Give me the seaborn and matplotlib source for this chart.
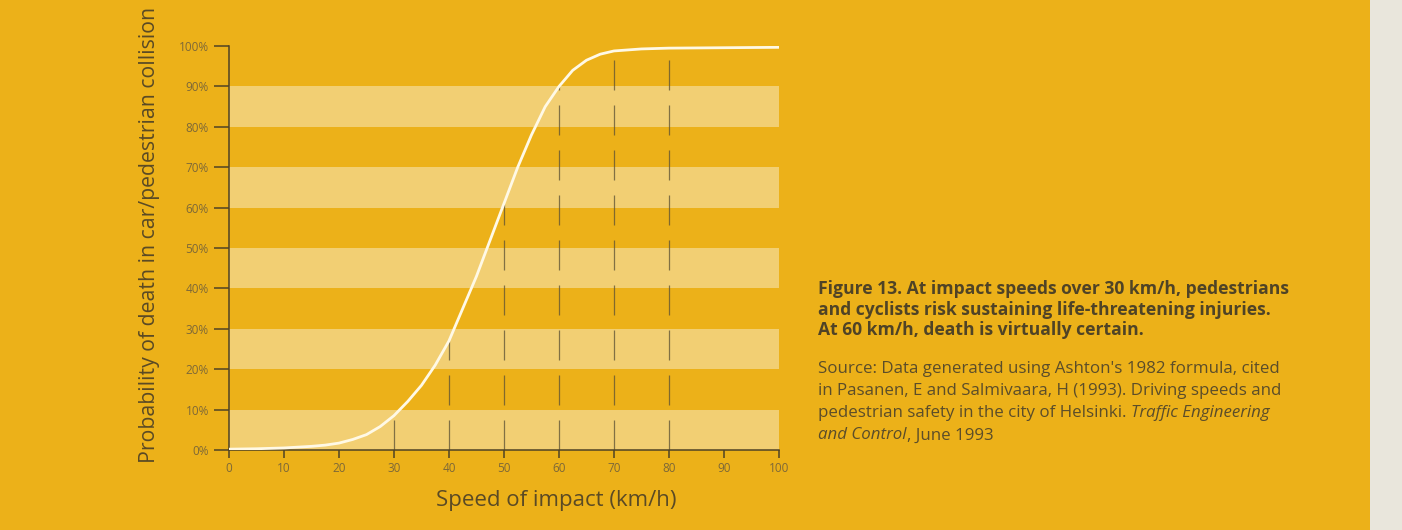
import numpy as np
import pandas as pd
import matplotlib
matplotlib.use("Agg")
import matplotlib.pyplot as plt
import seaborn as sns

# speed of impact (km/h) and probability of death (%)
speed = [0, 5, 7.5, 10, 12.5, 15, 17.5, 20, 22.5, 25, 27.5, 30, 32.5, 35, 37.5,
         40, 42.5, 45, 47.5, 50, 52.5, 55, 57.5, 60, 62.5, 65, 67.5, 70, 75,
         80, 90, 100]
death_pct = [0.2, 0.3, 0.4, 0.5, 0.7, 0.9, 1.2, 1.7, 2.6, 3.8, 5.8, 8.5, 12, 16,
             21, 27, 35, 43, 52, 61, 70, 78, 85, 90, 94, 96.5, 98, 98.8, 99.3,
             99.5, 99.6, 99.7]

# speeds that carry a broken drop line down to the axis
drop_speeds = [30, 40, 50, 60, 70, 80]

x_ticks = [0, 10, 20, 30, 40, 50, 60, 70, 80, 90, 100]
y_ticks = [0, 10, 20, 30, 40, 50, 60, 70, 80, 90, 100]
band_starts = [0, 20, 40, 60, 80]
band_width = 10

caption = ("Figure 13. At impact speeds over 30 km/h, pedestrians\n"
           "and cyclists risk sustaining life-threatening injuries.\n"
           "At 60 km/h, death is virtually certain.")
# each source line as (text, italic) pieces
source_lines = [
    [("Source: Data generated using Ashton's 1982 formula, cited", False)],
    [("in Pasanen, E and Salmivaara, H (1993). Driving speeds and", False)],
    [("pedestrian safety in the city of Helsinki. ", False),
     ("Traffic Engineering", True)],
    [("and Control", True), (", June 1993", False)],
]

BG = "#ECB119"
BAND = "#F2CF73"
INK = "#4f4326"
TICK_INK = "#7d6838"

sns.set_theme(style="white")
plt.rcParams["font.family"] = ["Open Sans", "DejaVu Sans"]

df = pd.DataFrame({"speed": speed, "death": death_pct})

fig = plt.figure(figsize=(14.02, 5.30), dpi=100, facecolor=BG)
ax = fig.add_axes([0.1633, 0.151, 0.3923, 0.762])
ax.set_facecolor(BG)

for b in band_starts:
    ax.axhspan(b, b + band_width, color=BAND, lw=0, zorder=0)

drop_vals = np.interp(drop_speeds, speed, death_pct)
ax.vlines(drop_speeds, 0, drop_vals, colors="#5c5135", linewidth=0.9,
          linestyles=(0, (24, 12)), alpha=0.75, zorder=1)

sns.lineplot(data=df, x="speed", y="death", ax=ax, color="#FFF9E6",
             linewidth=2.0, zorder=3)

ax.set_xlim(0, 100)
ax.set_ylim(0, 100)
ax.set_xticks(x_ticks)
ax.set_yticks(y_ticks)
ax.set_yticklabels([f"{v}%" for v in y_ticks])
ax.tick_params(axis="y", direction="out", length=11, width=1.1, color=INK,
               labelsize=8.5, labelcolor=TICK_INK, pad=3.5, left=True)
ax.tick_params(axis="x", direction="out", length=6, width=1.1, color=INK,
               labelsize=8.5, labelcolor=TICK_INK, pad=3, bottom=True)

for side in ["top", "right"]:
    ax.spines[side].set_visible(False)
for side in ["left", "bottom"]:
    ax.spines[side].set_color(INK)
    ax.spines[side].set_linewidth(1.1)

ax.set_xlabel("Speed of impact (km/h)", fontsize=16, color="#5a4a25")
ax.set_ylabel("Probability of death in car/pedestrian collision", fontsize=15.3,
              color="#5a4a25")
ax.xaxis.set_label_coords(0.595, -0.098)
ax.yaxis.set_label_coords(-0.125, 0.532)

fig.text(0.5835, 0.472, caption, fontsize=12.6, fontweight="bold", color=INK,
         va="top", ha="left", linespacing=1.2)

fig.canvas.draw()
renderer = fig.canvas.get_renderer()
for i, pieces in enumerate(source_lines):
    x0 = 0.5835
    y0 = 0.318 - i * 0.0415
    for txt, italic in pieces:
        t = fig.text(x0, y0, txt, fontsize=12.2, color="#5b4d2a", va="top",
                     ha="left", style="italic" if italic else "normal")
        bb = t.get_window_extent(renderer=renderer)
        x0 = fig.transFigure.inverted().transform((bb.x1, bb.y0))[0]

# page edge on the right of the scan
fig.patches.append(plt.Rectangle((0.977, 0), 0.023, 1, transform=fig.transFigure,
                                 facecolor="#E9E6DC", edgecolor="none"))

fig.savefig("out.png", dpi=100, facecolor=BG)
